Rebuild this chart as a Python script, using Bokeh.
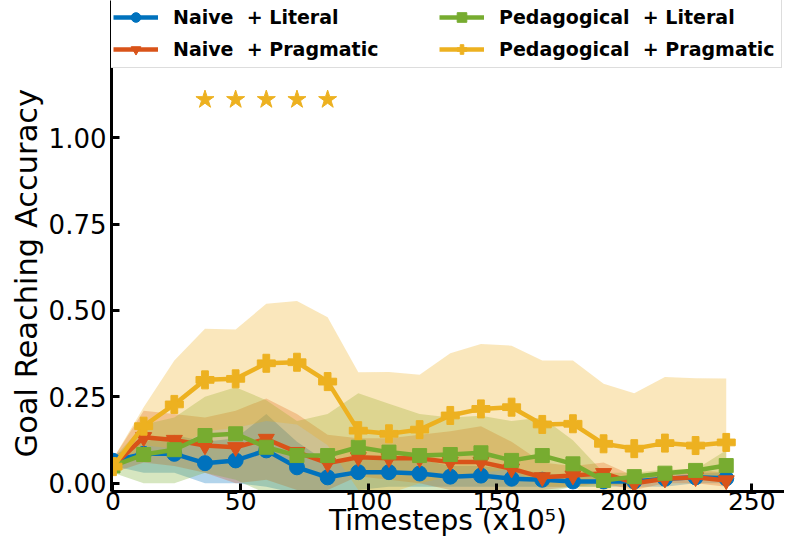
from bokeh.plotting import figure
from bokeh.models import Range1d, FixedTicker, NumeralTickFormatter, Title
from bokeh.embed import file_html
from bokeh.resources import INLINE

# ---------------- data ----------------
timesteps = [0, 12, 24, 36, 48, 60, 72, 84, 96, 108, 120, 132, 144, 156, 168, 180, 192, 204, 216, 228, 240]

naive_literal = [0.065, 0.085, 0.085, 0.058, 0.066, 0.095, 0.046, 0.017, 0.032, 0.032, 0.028, 0.019, 0.022, 0.013, 0.010, 0.005, 0.005, 0.005, 0.013, 0.017, 0.014]
naive_literal_hi = [0.08, 0.12, 0.14, 0.12, 0.13, 0.20, 0.12, 0.06, 0.08, 0.07, 0.07, 0.05, 0.05, 0.04, 0.03, 0.02, 0.02, 0.02, 0.03, 0.03, 0.03]
naive_literal_lo = [0.05, 0.03, 0.03, 0.0, 0.0, -0.01, -0.03, -0.03, -0.02, -0.01, -0.01, -0.01, -0.01, -0.01, -0.01, -0.01, -0.01, -0.01, -0.01, 0.0, 0.0]

naive_pragmatic = [0.05, 0.133, 0.125, 0.109, 0.104, 0.128, 0.09, 0.058, 0.075, 0.072, 0.072, 0.061, 0.061, 0.042, 0.017, 0.022, 0.029, 0.0, 0.013, 0.017, 0.008]
naive_pragmatic_hi = [0.07, 0.21, 0.20, 0.19, 0.21, 0.245, 0.20, 0.14, 0.13, 0.13, 0.14, 0.15, 0.165, 0.12, 0.06, 0.05, 0.06, 0.02, 0.03, 0.04, 0.03]
naive_pragmatic_lo = [0.03, 0.06, 0.05, 0.03, 0.0, 0.01, -0.02, -0.02, 0.02, 0.01, 0.0, -0.02, -0.04, -0.03, -0.02, -0.01, 0.0, -0.02, 0.0, 0.0, -0.01]

ped_literal = [0.05, 0.083, 0.097, 0.138, 0.143, 0.104, 0.08, 0.08, 0.104, 0.09, 0.08, 0.083, 0.088, 0.066, 0.08, 0.056, 0.008, 0.019, 0.029, 0.037, 0.051]
ped_literal_hi = [0.07, 0.17, 0.19, 0.25, 0.278, 0.24, 0.18, 0.20, 0.26, 0.23, 0.20, 0.19, 0.195, 0.18, 0.19, 0.124, 0.03, 0.03, 0.04, 0.04, 0.095]
ped_literal_lo = [0.03, 0.0, 0.0, 0.03, 0.01, -0.03, -0.02, -0.04, -0.05, -0.05, -0.04, -0.02, -0.02, -0.05, -0.03, -0.01, -0.01, 0.0, 0.02, 0.03, 0.0]

ped_pragmatic = [0.048, 0.165, 0.228, 0.299, 0.302, 0.347, 0.35, 0.294, 0.152, 0.143, 0.155, 0.196, 0.215, 0.22, 0.17, 0.172, 0.114, 0.10, 0.116, 0.109, 0.118]
ped_pragmatic_hi = [0.07, 0.22, 0.355, 0.447, 0.445, 0.519, 0.527, 0.48, 0.321, 0.322, 0.314, 0.376, 0.403, 0.398, 0.355, 0.355, 0.288, 0.26, 0.307, 0.304, 0.303]
ped_pragmatic_lo = [0.03, 0.11, 0.10, 0.15, 0.16, 0.18, 0.17, 0.11, -0.02, -0.03, 0.0, 0.02, 0.03, 0.04, -0.01, -0.01, -0.06, -0.06, -0.07, -0.08, -0.07]

significant_steps = [36, 48, 60, 72, 84]
significance_level = 1.11

x_ticks = [0, 50, 100, 150, 200, 250]
y_ticks = [0.0, 0.25, 0.5, 0.75, 1.0]

series = [
    ("Naive\u00a0 + Literal", naive_literal, naive_literal_lo, naive_literal_hi, "#0072BD", "circle", 15),
    ("Naive\u00a0 + Pragmatic", naive_pragmatic, naive_pragmatic_lo, naive_pragmatic_hi, "#D95319", "inverted_triangle", 16),
    ("Pedagogical\u00a0 + Literal", ped_literal, ped_literal_lo, ped_literal_hi, "#77AC30", "square", 14),
    ("Pedagogical\u00a0 + Pragmatic", ped_pragmatic, ped_pragmatic_lo, ped_pragmatic_hi, "#EDB120", "plus", 18),
]

# ---------------- figure ----------------
p = figure(width=784, height=541, output_backend="svg", toolbar_location=None,
           x_range=Range1d(-0.587, 262.8), y_range=Range1d(-0.024, 1.3967),
           min_border_left=111, min_border_right=0, min_border_top=0, min_border_bottom=50)
p.outline_line_color = None
p.grid.visible = False
p.background_fill_color = "white"

for name, m, lo, hi, col, mk, sz in series:
    p.varea(x=timesteps, y1=lo, y2=hi, fill_color=col, fill_alpha=0.3)

for name, m, lo, hi, col, mk, sz in series:
    p.line(timesteps, m, line_color=col, line_width=4.5, legend_label=name)
    p.scatter(timesteps, m, marker=mk, size=sz, fill_color=col, line_color=col, legend_label=name)

p.scatter(significant_steps, [significance_level] * len(significant_steps), marker="star",
          size=19, fill_color="#EDB120", line_color="#EDB120")

# axes
for ax in (p.xaxis[0], p.yaxis[0]):
    ax.axis_line_width = 3
    ax.axis_line_color = "black"
    ax.major_tick_line_width = 3
    ax.major_tick_line_color = "black"
    ax.major_tick_in = 8
    ax.major_tick_out = 0
    ax.minor_tick_line_color = None
    ax.major_label_text_font = "DejaVu Sans"
    ax.major_label_text_font_size = "26px"
    ax.major_label_text_color = "black"

p.xaxis.major_label_text_font_size = "25px"
p.xaxis.ticker = FixedTicker(ticks=x_ticks)
p.yaxis.ticker = FixedTicker(ticks=y_ticks)
p.yaxis.formatter = NumeralTickFormatter(format="0.00")
p.xaxis.major_label_standoff = 0
p.yaxis.major_label_standoff = 5

p.xaxis.axis_label = "Timesteps (x10\u2075)"
p.xaxis.axis_label_text_font = "DejaVu Sans"
p.xaxis.axis_label_text_font_style = "normal"
p.xaxis.axis_label_text_font_size = "28px"
p.xaxis.axis_label_text_color = "black"
p.xaxis.axis_label_text_line_height = 1.0
p.xaxis.axis_label_standoff = -9

p.add_layout(Title(text="Goal Reaching Accuracy", align="left", offset=34, standoff=3,
                   text_font="DejaVu Sans", text_font_style="normal",
                   text_font_size="30.5px", text_color="black"), "left")

# legend
lg = p.legend[0]
lg.location = (-5, 423)
lg.ncols = 2
lg.orientation = "vertical"
lg.label_text_font = "DejaVu Sans"
lg.label_text_font_style = "bold"
lg.label_text_font_size = "19px"
lg.label_text_color = "black"
lg.glyph_width = 45
lg.glyph_height = 24
lg.label_height = 24
lg.label_standoff = 15
lg.label_width = 258
lg.spacing = 8
lg.padding = 6
lg.margin = 0
lg.border_line_color = "#bbbbbb"
lg.border_line_width = 1
lg.background_fill_color = "white"
lg.background_fill_alpha = 1.0

open("out.html", "w").write(file_html(p, INLINE))
